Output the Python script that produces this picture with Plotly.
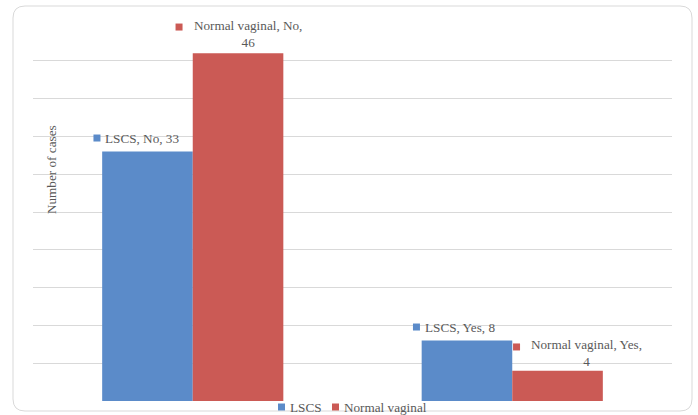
import plotly.graph_objects as go

# Delivery outcome categories and case counts per mode of delivery
categories = ["No", "Yes"]
series_names = ["LSCS", "Normal vaginal"]
lscs_counts = [33, 8]
vaginal_counts = [46, 4]

colors = {"LSCS": "#5B8BC9", "Normal vaginal": "#CB5A55"}
FONT = "Liberation Serif, Times New Roman, serif"
TEXT = "#595959"
FS = 13.2

W, H = 698, 415
ML, MR, MT, MB = 33, 26, 23, 14
PW, PH = W - ML - MR, H - MT - MB
BARGAP = 0.433

fig = go.Figure()
for name, vals in zip(series_names, [lscs_counts, vaginal_counts]):
    fig.add_trace(go.Bar(
        name=name, x=categories, y=vals,
        marker=dict(color=colors[name], line=dict(width=0)),
        hoverinfo="x+y+name", showlegend=False,
    ))


def px_x(p):
    return (p - ML) / PW


def px_y(p):
    return (H - MB - p) / PH


def key_square(xref, yref, x, y, cx, cy, color, size=7):
    """Small filled key square, placed in pixels around an anchor point."""
    h = size / 2
    fig.add_shape(type="rect", xref=xref, yref=yref,
                  xsizemode="pixel", ysizemode="pixel",
                  xanchor=x, yanchor=y,
                  x0=cx - h, x1=cx + h, y0=cy - h, y1=cy + h,
                  fillcolor=color, line=dict(width=0), layer="above")


# Data labels ("Series, Category, Value") beside each bar, with key square.
# (text dx, first-line dy, key dx, wrap value onto second line)
bar_w = (1 - BARGAP) / 2
label_place = {
    ("LSCS", 0): (-5.5, 13.5, -50.5, False),
    ("Normal vaginal", 0): (10, 26.2, -59, True),
    ("LSCS", 1): (-7, 13.5, -50.5, False),
    ("Normal vaginal", 1): (29, 23.8, -41, True),
}
LINE = 13
for si, (name, vals) in enumerate(zip(series_names, [lscs_counts, vaginal_counts])):
    for ci, (cat, v) in enumerate(zip(categories, vals)):
        dx, dy, kdx, wrap = label_place[(name, ci)]
        xc = ci + (si - 0.5) * bar_w
        if wrap:
            text, yshift = f"{name}, {cat},<br>{v}", dy - LINE / 2
        else:
            text, yshift = f"{name}, {cat}, {v}", dy
        fig.add_annotation(
            x=xc, y=v, xref="x", yref="y", text=text, showarrow=False,
            xanchor="center", yanchor="middle", align="center",
            xshift=dx, yshift=yshift, borderpad=0,
            font=dict(family=FONT, size=FS, color=TEXT),
        )
        key_square("x", "y", xc, v, kdx, dy, colors[name])

# Vertical axis title
fig.add_annotation(
    x=px_x(52), y=px_y(170), xref="paper", yref="paper",
    text="Number of cases", textangle=-90, showarrow=False,
    xanchor="center", yanchor="middle",
    font=dict(family=FONT, size=FS, color=TEXT),
)

# Legend row under the plot area
legend_pos = {"LSCS": (281.5, 288), "Normal vaginal": (335.5, 342)}
for n in series_names:
    kx, tx = legend_pos[n]
    key_square("paper", "paper", px_x(kx), px_y(407), 0, 0, colors[n])
    fig.add_annotation(
        x=px_x(tx), y=px_y(407), xref="paper", yref="paper", text=n,
        showarrow=False, xanchor="left", yanchor="middle",
        font=dict(family=FONT, size=FS, color=TEXT),
    )

# Rounded chart-area border
x0, x1, y0, y1, r = 13, 692, 6, 411, 12
rx, ry = r / PW, r / PH
path = (f"M {px_x(x0)+rx} {px_y(y0)} L {px_x(x1)-rx} {px_y(y0)} "
        f"Q {px_x(x1)} {px_y(y0)} {px_x(x1)} {px_y(y0)-ry} "
        f"L {px_x(x1)} {px_y(y1)+ry} Q {px_x(x1)} {px_y(y1)} {px_x(x1)-rx} {px_y(y1)} "
        f"L {px_x(x0)+rx} {px_y(y1)} Q {px_x(x0)} {px_y(y1)} {px_x(x0)} {px_y(y1)+ry} "
        f"L {px_x(x0)} {px_y(y0)-ry} Q {px_x(x0)} {px_y(y0)} {px_x(x0)+rx} {px_y(y0)} Z")
fig.add_shape(type="path", path=path, xref="paper", yref="paper",
              line=dict(color="#D9D9D9", width=1), layer="below")

fig.update_layout(
    width=W, height=H,
    margin=dict(l=ML, r=MR, t=MT, b=MB),
    paper_bgcolor="white", plot_bgcolor="white",
    barmode="group", bargap=BARGAP, bargroupgap=0,
    font=dict(family=FONT, size=12, color=TEXT),
    showlegend=False,
    xaxis=dict(showticklabels=False, showgrid=False, zeroline=False,
               showline=False, ticks=""),
    yaxis=dict(range=[0, 50], dtick=5, showticklabels=False, ticks="",
               showgrid=True, gridcolor="#D9D9D9", gridwidth=1,
               zeroline=False, showline=False),
)

fig.write_html("out.html")
